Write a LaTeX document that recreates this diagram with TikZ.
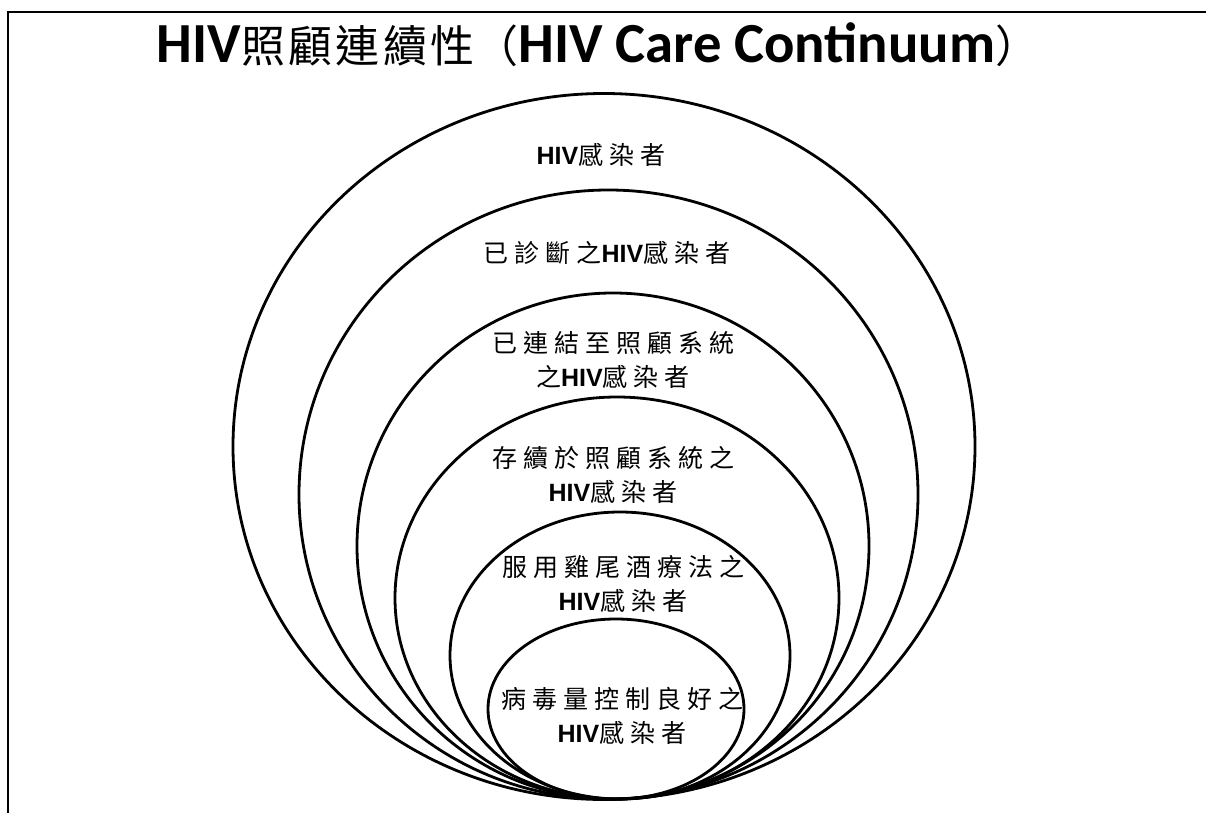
\documentclass[tikz,border=0pt]{standalone}
\usepackage{fontspec}
\setmainfont{Liberation Sans}
\newfontfamily\cjk{Noto Sans CJK TC}
\newfontfamily\ttl{Carlito}
\newlength\cjkgap
\setlength\cjkgap{4.5pt}
\makeatletter
\newcommand\cjs[1]{{\cjk\let\cjs@sep\relax\@tfor\cjs@t:=#1\do{\cjs@sep\cjs@t\def\cjs@sep{\kern\cjkgap}}}}
\makeatother
\newcommand\hiv{\textbf{HIV}}
\begin{document}
\begin{tikzpicture}[x=0.75pt,y=-0.75pt,
  ring/.style={line width=2.1pt},
  frame/.style={line width=1.8pt},
  lbl/.style={font=\fontsize{18.75pt}{25.5pt}\selectfont, align=center, inner sep=0pt}]
\useasboundingbox (0,0) rectangle (1206,813);
\draw[frame] (8,813) -- (8,12) -- (1206,12);
% title
\node[inner sep=0pt] (title) at (598,45) {\setlength\cjkgap{2.5pt}\ttl\fontsize{42.5pt}{46pt}\selectfont\bfseries HIV{\mdseries\fontsize{33pt}{37pt}\selectfont\cjs{照顧連續性}{\cjk （}}HIV Care Continuum{\cjk\mdseries\fontsize{33pt}{37pt}\selectfont ）}};
% rings
\draw[ring] (604,446.5) ellipse [x radius=371, y radius=353];
\draw[ring] (608.5,494.5) ellipse [x radius=309.5, y radius=304.5];
\draw[ring] (613,546) ellipse [x radius=256, y radius=253];
\draw[ring] (617,598) ellipse [x radius=222, y radius=201];
\draw[ring] (620,655.5) ellipse [x radius=170, y radius=143.5];
\draw[ring] (616,709) ellipse [x radius=128, y radius=90];
% labels
\node[lbl] (l1) at (601,155) {\hiv\cjs{感染者}};
\node[lbl] (l2) at (607,253) {\cjs{已診斷之}\hiv\cjs{感染者}};
\node[lbl] (l3) at (613,360) {\cjs{已連結至照顧系統}\\\cjs{之}\hiv\cjs{感染者}};
\node[lbl] (l4) at (613,475) {\cjs{存續於照顧系統之}\\\hiv\cjs{感染者}};
\node[lbl] (l5) at (623,584) {\cjs{服用雞尾酒療法之}\\\hiv\cjs{感染者}};
\node[lbl] (l6) at (622,716) {\cjs{病毒量控制良好之}\\\hiv\cjs{感染者}};
\end{tikzpicture}
\end{document}
